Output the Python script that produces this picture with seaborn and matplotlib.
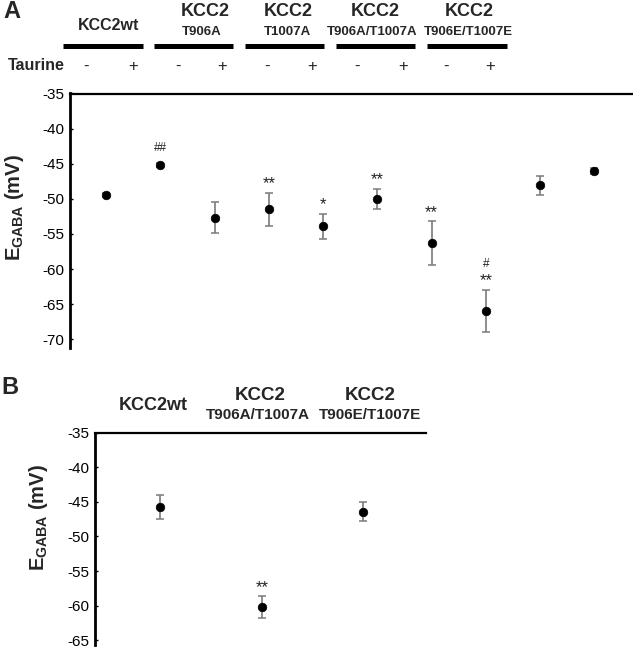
import matplotlib
matplotlib.use('Agg')
import matplotlib.pyplot as plt
from matplotlib.lines import Line2D
import seaborn as sns
import pandas as pd
import numpy as np

# Dados - painel A (E_GABA em mV, média +/- erro)
groups_a = ['KCC2wt', 'KCC2wt', 'T906A', 'T906A', 'T1007A', 'T1007A',
            'T906A/T1007A', 'T906A/T1007A', 'T906E/T1007E', 'T906E/T1007E']
taurine_a = ['-', '+', '-', '+', '-', '+', '-', '+', '-', '+']
mean_a = [-49.5, -45.2, -52.7, -51.5, -53.9, -50.0, -56.3, -66.0, -48.1, -46.05]
err_a = [0.3, 0.3, 2.2, 2.4, 1.8, 1.4, 3.1, 3.0, 1.4, 0.4]
stars_a = ['', '', '', '**', '*', '**', '**', '**', '', '']
hash_a = ['', '##', '', '', '', '', '', '#', '', '']

# Dados - painel B
groups_b = ['KCC2wt', 'T906A/T1007A', 'T906E/T1007E']
mean_b = [-45.75, -60.2, -46.4]
err_b = [1.7, 1.55, 1.4]
stars_b = ['', '**', '']

# Cabeçalhos
head_a_main = ['KCC2wt', 'KCC2', 'KCC2', 'KCC2', 'KCC2']
head_a_sub = ['', 'T906A', 'T1007A', 'T906A/T1007A', 'T906E/T1007E']
head_b_main = ['KCC2wt', 'KCC2', 'KCC2']
head_b_sub = ['', 'T906A/T1007A', 'T906E/T1007E']

sns.set_style('white')
plt.rcParams['font.family'] = ['Liberation Sans', 'DejaVu Sans']
plt.rcParams['mathtext.fontset'] = 'custom'
plt.rcParams['mathtext.rm'] = 'Liberation Sans'
plt.rcParams['mathtext.bf'] = 'Liberation Sans:bold'

W, H = 633, 648
fig = plt.figure(figsize=(W / 100, H / 100), dpi=100)


def px(x, y):
    return x / W, 1 - y / H


def style_axis(ax, yticks):
    for s in ['bottom', 'right']:
        ax.spines[s].set_visible(False)
    ax.spines['left'].set_linewidth(2.0)
    ax.spines['top'].set_linewidth(1.6)
    ax.spines['left'].set_color('black')
    ax.spines['top'].set_color('black')
    ax.set_xticks([])
    ax.set_yticks(yticks)
    ax.set_yticklabels([str(t) for t in yticks])
    ax.tick_params(axis='y', direction='in', length=2.5, width=1, left=True,
                   labelsize=11, pad=4, colors='black')
    ax.set_xlabel('')


def draw_points(ax, df):
    ax.errorbar(df['pos'], df['mean'], yerr=df['err'], fmt='none',
                ecolor='#7a7a7a', elinewidth=1.2, capsize=3, capthick=1.1, zorder=2)
    sns.scatterplot(data=df, x='pos', y='mean', color='black', s=38,
                    edgecolor='black', linewidth=0.5, ax=ax, zorder=3, legend=False)


# ---------------- Painel A ----------------
axA = fig.add_axes([70 / W, 1 - 347.7 / H, (W - 70) / W, (347.7 - 93.5) / H])
dfA = pd.DataFrame({'group': groups_a, 'taurine': taurine_a,
                    'mean': mean_a, 'err': err_a})
dfA['pos'] = np.arange(len(dfA))
draw_points(axA, dfA)
axA.set_xlim(-0.667, 9.71)
axA.set_ylim(-71.2, -35)
style_axis(axA, list(range(-35, -71, -5)))
axA.set_ylabel(r'$\mathbf{E}_{\mathbf{GABA}}$ (mV)', fontsize=14.5, fontweight='bold')
axA.yaxis.set_label_coords(-0.078, 0.55)

for i, row in dfA.iterrows():
    top = row['mean'] + row['err']
    if stars_a[i]:
        axA.annotate(stars_a[i], (row['pos'], top), xytext=(0, 6.5),
                     textcoords='offset points', ha='center', va='center',
                     fontsize=12, color='#222222')
    if hash_a[i]:
        off = 19 if stars_a[i] else 11
        axA.annotate(hash_a[i], (row['pos'], top), xytext=(0, off),
                     textcoords='offset points', ha='center', va='center',
                     fontsize=8.5, color='#222222')

# cabeçalho A
main_x = [109, 205, 288, 375, 469]
sub_x = [109, 202, 287, 372, 468]
bars = [(63, 143), (154, 233), (245, 324), (336, 415), (427, 507)]
for k in range(len(head_a_main)):
    if head_a_sub[k]:
        fig.text(*px(main_x[k], 12), head_a_main[k], ha='center', va='center',
                 fontsize=13, fontweight='bold')
        fig.text(*px(sub_x[k], 32), head_a_sub[k], ha='center', va='center',
                 fontsize=9.5, fontweight='bold')
    else:
        fig.text(*px(main_x[k], 26), head_a_main[k], ha='center', va='center',
                 fontsize=11.5, fontweight='bold')
    x0, x1 = bars[k]
    fig.add_artist(Line2D([x0 / W, x1 / W], [1 - 46 / H, 1 - 46 / H],
                          color='black', linewidth=3.6, solid_capstyle='butt'))

fig.text(*px(8, 66), 'Taurine', ha='left', va='center', fontsize=11.5, fontweight='bold')
tau_x = [86, 133, 178, 222, 267, 312, 357, 403, 446, 490]
for xx, t in zip(tau_x, taurine_a):
    fig.text(*px(xx, 66), t, ha='center', va='center', fontsize=12)

fig.text(*px(3, 12), 'A', ha='left', va='center', fontsize=17, fontweight='bold')

# ---------------- Painel B ----------------
axB = fig.add_axes([95 / W, 1 - 645 / H, (426 - 95) / W, (645 - 432.7) / H])
dfB = pd.DataFrame({'group': groups_b, 'mean': mean_b, 'err': err_b})
dfB['pos'] = np.arange(len(dfB))
draw_points(axB, dfB)
axB.set_xlim(-0.643, 2.618)
axB.set_ylim(-65.7, -35)
style_axis(axB, list(range(-35, -66, -5)))
axB.set_ylabel(r'$\mathbf{E}_{\mathbf{GABA}}$ (mV)', fontsize=14.5, fontweight='bold')
axB.yaxis.set_label_coords(-0.135, 0.6)

for i, row in dfB.iterrows():
    if stars_b[i]:
        axB.annotate(stars_b[i], (row['pos'], row['mean'] + row['err']),
                     xytext=(0, 6.5), textcoords='offset points', ha='center',
                     va='center', fontsize=12, color='#222222')

bx = [153, 260, 370]
for k in range(len(head_b_main)):
    if head_b_sub[k]:
        fig.text(*px(bx[k], 396), head_b_main[k], ha='center', va='center',
                 fontsize=13.5, fontweight='bold')
        fig.text(*px(bx[k] - 2 if k == 1 else bx[k], 415), head_b_sub[k],
                 ha='center', va='center', fontsize=11, fontweight='bold')
    else:
        fig.text(*px(bx[k], 405), head_b_main[k], ha='center', va='center',
                 fontsize=13, fontweight='bold')

fig.text(*px(1, 388), 'B', ha='left', va='center', fontsize=17, fontweight='bold')

fig.savefig('out.png', dpi=100)
plt.close(fig)
